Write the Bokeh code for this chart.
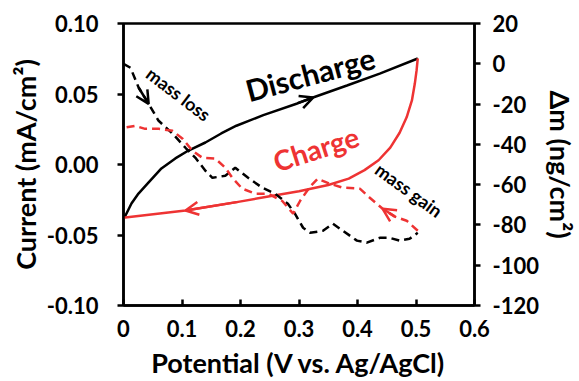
from bokeh.plotting import figure
from bokeh.models import Range1d, LinearAxis, FixedTicker, Arrow, OpenHead
from bokeh.core.properties import value
from bokeh.embed import file_html
from bokeh.resources import INLINE

# ---------------- data ----------------
x_ticks = [0, 0.1, 0.2, 0.3, 0.4, 0.5, 0.6]
x_tick_labels = ["0", "0.1", "0.2", "0.3", "0.4", "0.5", "0.6"]
y_ticks = [-0.10, -0.05, 0.0, 0.05, 0.10]
y_tick_labels = ["-0.10", "-0.05", "0.00", "0.05", "0.10"]
m_ticks = [-120, -100, -80, -60, -40, -20, 0, 20]
m_tick_labels = ["-120", "-100", "-80", "-60", "-40", "-20", "0", "20"]

# Discharge current (black solid)
dis_v = [0.0, 0.0034, 0.0136, 0.0256, 0.0426, 0.0648, 0.0886, 0.111, 0.140, 0.167, 0.193,
         0.239, 0.297, 0.324, 0.382, 0.438, 0.503]
dis_i = [-0.037, -0.0362, -0.0277, -0.0206, -0.0128, -0.0028, 0.0043, 0.0099, 0.0156, 0.022, 0.0275,
         0.0350, 0.0433, 0.0475, 0.056, 0.0645, 0.0752]

# Charge current (red solid)
chg_v = [0.503, 0.501, 0.498, 0.493, 0.484, 0.472, 0.456, 0.436, 0.412, 0.385, 0.350, 0.300,
         0.250, 0.196, 0.106, 0.003, 0.0]
chg_i = [0.0752, 0.0667, 0.0574, 0.0454, 0.0335, 0.0225, 0.012, 0.003, -0.004, -0.010, -0.0145, -0.019,
         -0.0225, -0.0265, -0.0326, -0.0376, -0.0376]

# Mass change during discharge (black dashed, right axis)
dm_dis_v = [0.0, 0.012, 0.026, 0.043, 0.060, 0.084, 0.106, 0.123, 0.140, 0.152, 0.174, 0.191,
            0.213, 0.237, 0.259, 0.281, 0.293, 0.307, 0.319, 0.341, 0.358, 0.375, 0.399,
            0.416, 0.438, 0.455, 0.472, 0.489, 0.503]
dm_dis_m = [0, -2, -11.9, -19.9, -28.3, -34.7, -41.7, -46.7, -53.1, -56.6, -55.6, -51.6,
            -56.6, -61.5, -64.5, -69.5, -74.4, -81.4, -83.9, -82.9, -79.4, -82.9, -87.8,
            -88.8, -86.4, -86.4, -87.8, -86.9, -83.9]

# Mass change during charge (red dashed, right axis)
dm_chg_v = [0.503, 0.484, 0.464, 0.443, 0.421, 0.404, 0.375, 0.353, 0.332, 0.319, 0.302, 0.290,
            0.271, 0.247, 0.225, 0.203, 0.186, 0.174, 0.157, 0.135, 0.118, 0.101, 0.084,
            0.060, 0.037, 0.020, 0.0]
dm_chg_m = [-82.9, -77.9, -75.9, -72.0, -66.5, -62.0, -61.5, -59.6, -57.1, -61.0, -68.0, -74.4,
            -68.0, -64.5, -64.5, -62.0, -56.6, -51.6, -47.1, -46.7, -43.2, -37.2, -33.3,
            -32.3, -32.3, -30.8, -31.8]

# annotation texts and positions (data coordinates)
labels = ["Discharge", "Charge", "mass loss", "mass gain"]
label_x = [0.319, 0.329, 0.094, 0.488]
label_y = [0.0645, 0.0113, 0.050, -0.018]

FONT = "Lato"
BLACK = "#000000"
RED = "#ee3333"

p = figure(width=579, height=381, output_backend="svg", toolbar_location=None,
           x_range=Range1d(0, 0.6), y_range=Range1d(-0.10, 0.10),
           min_border_left=123, min_border_right=104, min_border_top=23, min_border_bottom=76)
p.extra_y_ranges = {"mass": Range1d(-120, 20)}
p.xgrid.visible = False
p.ygrid.visible = False
p.outline_line_color = "black"
p.outline_line_width = 2.5
p.background_fill_color = "white"
p.border_fill_color = "white"

# axes styling
def style_axis(ax, ticks, tick_labels, label, tin, tout, standoff, lstandoff):
    ax.ticker = FixedTicker(ticks=ticks)
    ax.major_label_overrides = {t: l for t, l in zip(ticks, tick_labels)}
    ax.axis_label = label
    ax.axis_line_width = 2.5
    ax.axis_line_color = "black"
    ax.major_tick_line_width = 2.5
    ax.major_tick_in = tin
    ax.major_tick_out = tout
    ax.minor_tick_line_color = None
    ax.major_label_standoff = standoff
    ax.major_label_text_font = FONT
    ax.major_label_text_font_style = "bold"
    ax.major_label_text_font_size = "22px"
    ax.major_label_text_color = "black"
    ax.axis_label_text_font = FONT
    ax.axis_label_text_font_style = "bold"
    ax.axis_label_text_font_size = "27px"
    ax.axis_label_text_color = "black"
    ax.axis_label_standoff = lstandoff

style_axis(p.xaxis[0], x_ticks, x_tick_labels, "Potential (V vs. Ag/AgCl)", 6, 0, 14, 6)
style_axis(p.yaxis[0], y_ticks, y_tick_labels, "Current (mA/cm²)", 0, 6, 19, 2)

ax_r = LinearAxis(y_range_name="mass")
style_axis(ax_r, m_ticks, m_tick_labels, "Δm (ng/cm²)", 0, 6, 12, 2)
p.add_layout(ax_r, "right")

# curves
p.line(dis_v, dis_i, line_color=BLACK, line_width=2.5)
p.line(chg_v, chg_i, line_color=RED, line_width=2.5)
p.line(dm_dis_v, dm_dis_m, line_color=BLACK, line_width=2.5, line_dash="8 5", y_range_name="mass")
p.line(dm_chg_v, dm_chg_m, line_color=RED, line_width=2.5, line_dash="8 5", y_range_name="mass")

# direction arrows, placed on data segments
def add_arrow(xs, ys, i, color, rng="default"):
    p.add_layout(Arrow(end=OpenHead(size=13, line_color=color, line_width=2.5),
                       x_start=xs[i - 1], y_start=ys[i - 1], x_end=xs[i], y_end=ys[i],
                       line_color=color, line_width=2.5, y_range_name=rng))

add_arrow(dis_v, dis_i, 13, BLACK)
add_arrow(chg_v, chg_i, 14, RED)
add_arrow(dm_dis_v, dm_dis_m, 3, BLACK, "mass")
add_arrow(dm_chg_v, dm_chg_m, 3, RED, "mass")

# labels
angles = [0.26, 0.31, -0.65, -0.63]
colors = [BLACK, RED, BLACK, BLACK]
sizes = ["30px", "28px", "18px", "18px"]
for t, x, y, a, c, s in zip(labels, label_x, label_y, angles, colors, sizes):
    p.text(x=[x], y=[y], text=[t], angle=a, text_color=c, text_font=value(FONT),
           text_font_style="bold", text_font_size=s, text_align="center", text_baseline="middle")

open("out.html", "w").write(file_html(p, INLINE))
